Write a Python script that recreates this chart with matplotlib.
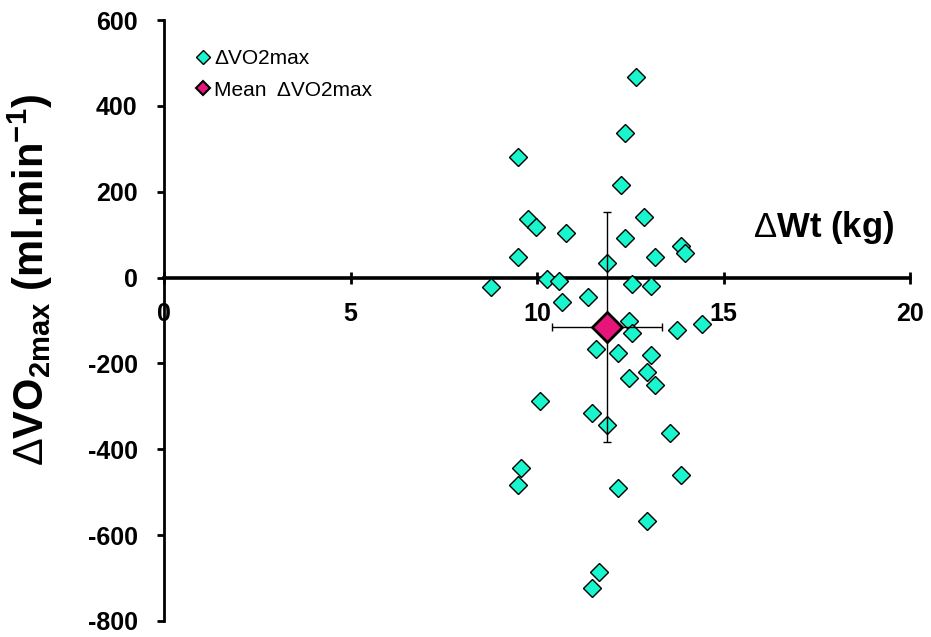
import matplotlib
matplotlib.use("Agg")
import matplotlib.pyplot as plt
from matplotlib.lines import Line2D

plt.rcParams['font.family'] = ['Liberation Sans', 'DejaVu Sans']
plt.rcParams['mathtext.fontset'] = 'custom'
plt.rcParams['mathtext.rm'] = 'Liberation Sans'
plt.rcParams['mathtext.it'] = 'Liberation Sans:italic'
plt.rcParams['mathtext.bf'] = 'Liberation Sans:bold'

# Change in body weight (kg) and change in VO2max (ml/min) per subject
wt_change = [12.66, 12.36, 9.48, 12.26, 9.77, 9.98, 10.77, 12.86, 12.37, 13.85,
             13.97, 9.48, 13.16, 11.87, 8.77, 10.26, 10.58, 12.56, 13.06, 10.66,
             11.36, 12.46, 12.56, 13.75, 14.43, 11.57, 12.16, 13.06, 12.96, 12.46,
             13.16, 10.07, 11.47, 11.87, 13.57, 9.58, 9.48, 12.16, 13.85, 12.96,
             11.67, 11.47]
vo2_change = [467, 336, 280, 215, 136, 117, 103, 140, 93, 74,
              58, 47, 47, 35, -23, -4, -8, -16, -20, -57,
              -45, -100, -130, -123, -109, -166, -175, -180, -219, -235,
              -250, -288, -315, -344, -363, -443, -484, -490, -461, -566,
              -685, -723]

# Group mean and standard deviation
mean_wt, sd_wt = 11.87, 1.47
mean_vo2, sd_vo2 = -115, 267

x_ticks = [0, 5, 10, 15, 20]
y_ticks = [-800, -600, -400, -200, 0, 200, 400, 600]

point_color = '#19F5CC'
mean_color = '#E6157A'

fig = plt.figure(figsize=(9.31, 6.37), dpi=100)
ax = fig.add_axes([164 / 931, 1 - 621 / 637, (910 - 164) / 931, (621 - 20) / 637])
ax.set_xlim(0, 20)
ax.set_ylim(-800, 600)

ax.spines['top'].set_visible(False)
ax.spines['right'].set_visible(False)
ax.spines['bottom'].set_position(('data', 0))
ax.spines['bottom'].set_linewidth(2.6)
ax.spines['left'].set_linewidth(2.0)

ax.set_xticks(x_ticks)
ax.set_xticklabels([str(v) for v in x_ticks])
ax.set_yticks(y_ticks)
ax.set_yticklabels([str(v) for v in y_ticks])
ax.tick_params(axis='x', direction='inout', length=9, width=2, pad=13,
               labelsize=18)
ax.tick_params(axis='y', direction='out', length=5, width=2, pad=14,
               labelsize=18)
for lab in ax.get_xticklabels() + ax.get_yticklabels():
    lab.set_fontweight('bold')

ax.plot(wt_change, vo2_change, linestyle='none', marker='D', ms=9,
        mfc=point_color, mec='black', mew=1.0, zorder=3, clip_on=False)

ax.errorbar([mean_wt], [mean_vo2], xerr=[sd_wt], yerr=[sd_vo2], fmt='none',
            ecolor='black', elinewidth=1.0, capsize=3, capthick=1.0, zorder=4)
ax.plot([mean_wt], [mean_vo2], linestyle='none', marker='D', ms=15,
        mfc=mean_color, mec='black', mew=2.0, zorder=5)

handles = [
    Line2D([], [], linestyle='none', marker='D', ms=7, mfc=point_color,
           mec='black', mew=1.0),
    Line2D([], [], linestyle='none', marker='D', ms=7, mfc=mean_color,
           mec='black', mew=1.5),
]
fig.legend(handles, ['\u0394VO2max', 'Mean  \u0394VO2max'], loc='upper left',
           bbox_to_anchor=(197 / 931, 1 - 49 / 637), frameon=False,
           fontsize=15, handlelength=0.6, handletextpad=0.22,
           labelspacing=0.6, borderaxespad=0, borderpad=0)

fig.text(824 / 931, 1 - 228 / 637, r'$\Delta$Wt (kg)', fontsize=25,
         fontweight='bold', ha='center', va='center')
fig.text(30 / 931, 1 - 280 / 637,
         r'$\Delta$VO$_{\mathbf{2max}}$ (ml.min$^{\mathbf{-1}}$)',
         fontsize=30, fontweight='bold', rotation=90, ha='center', va='center')

fig.savefig('out.png', dpi=100)
